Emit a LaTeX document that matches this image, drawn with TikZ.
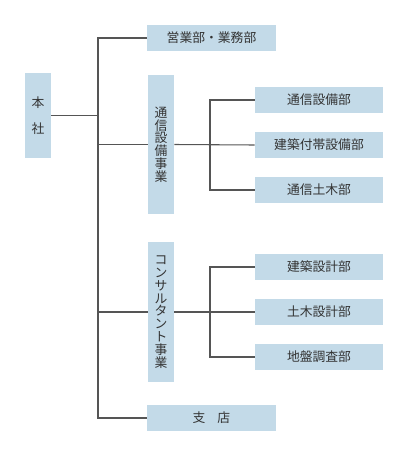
\documentclass[tikz,border=0pt]{standalone}
\usepackage{fontspec}
\setmainfont{Noto Sans CJK JP}
\definecolor{boxblue}{HTML}{C3DAE8}
\definecolor{linegray}{HTML}{555555}
\definecolor{txt}{HTML}{333333}
\begin{document}
\begin{tikzpicture}[x=0.75pt,y=-0.75pt,
  box/.style={draw=none,fill=boxblue,inner sep=0pt,text=txt,
    font=\fontsize{9.6pt}{9.6pt}\selectfont,align=center},
  hbox/.style={box,minimum width=129*0.75pt,minimum height=26*0.75pt},
  vbox/.style={box,minimum width=26*0.75pt},
  conn/.style={draw=linegray,line width=0.8pt}]
\useasboundingbox (0,0) rectangle (410,457);
\node[vbox,minimum height=85*0.75pt] (honsha) at (38,115.5) {本\\[10pt]社};
\node[hbox] (eigyo) at (211.5,38) {営業部・業務部};
\node[vbox,minimum height=139*0.75pt] (tsushin) at (161,144.5) {通\\信\\設\\備\\事\\業};
\node[hbox,minimum width=128*0.75pt] (t1) at (319,100) {通信設備部};
\node[hbox,minimum width=128*0.75pt] (t2) at (319,145) {建築付帯設備部};
\node[hbox,minimum width=128*0.75pt] (t3) at (319,190) {通信土木部};
\node[vbox,minimum height=140*0.75pt] (consul) at (161,312) {コ\\ン\\サ\\ル\\タ\\ン\\ト\\事\\業};
\node[hbox,minimum width=128*0.75pt] (c1) at (319,267) {建築設計部};
\node[hbox,minimum width=128*0.75pt] (c2) at (319,312) {土木設計部};
\node[hbox,minimum width=128*0.75pt] (c3) at (319,357) {地盤調査部};
\node[hbox] (shiten) at (211.5,418) {支\hspace{9pt}店};
\coordinate (ttop) at (98,38);
\coordinate (tbot) at (98,418);
\coordinate (s1top) at (210,100);
\coordinate (s1bot) at (210,190);
\coordinate (s2top) at (210,267);
\coordinate (s2bot) at (210,357);
\draw[conn] (eigyo.west) -- (ttop) -- (tbot) -- (shiten.west);
\draw[conn] (honsha.east) -- (honsha.east -| ttop);
\draw[conn] (tsushin.west) -- (tsushin.west -| ttop);
\draw[conn] (consul.west) -- (consul.west -| ttop);
\draw[conn] (tsushin.east) -- (t2.west);
\draw[conn] (t1.west) -- (s1top) -- (s1bot) -- (t3.west);
\draw[conn] (consul.east) -- (c2.west);
\draw[conn] (c1.west) -- (s2top) -- (s2bot) -- (c3.west);
\end{tikzpicture}
\end{document}
